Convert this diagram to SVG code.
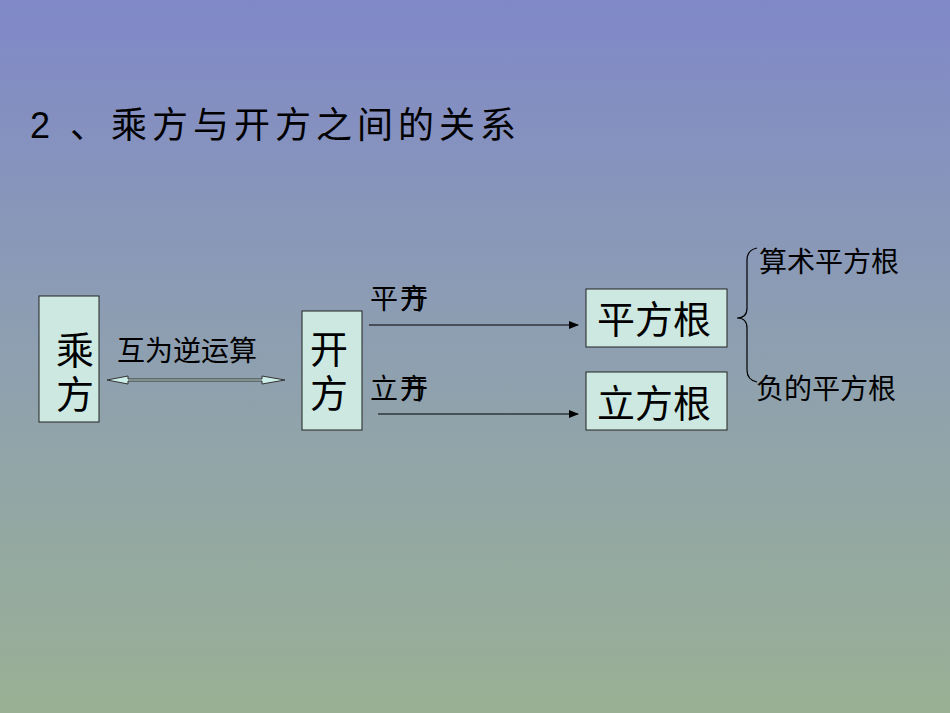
<svg xmlns="http://www.w3.org/2000/svg" width="950" height="713" viewBox="0 0 950 713">
<defs>
<linearGradient id="bg" x1="0" y1="0" x2="0" y2="1">
<stop offset="0" stop-color="#8088c8"/>
<stop offset="0.5" stop-color="#8ea0b0"/>
<stop offset="1" stop-color="#9ab094"/>
</linearGradient>
<marker id="ah" markerWidth="10" markerHeight="8" refX="9" refY="4" orient="auto" markerUnits="userSpaceOnUse">
<path d="M0,0 L10,4 L0,8 Z" fill="#000"/>
</marker>
<style>
text{font-family:"Liberation Serif","Noto Sans CJK SC",serif;fill:#000}
.box{fill:#cce8e0;stroke:#222;stroke-width:1}
.big{font-size:38px}
.mid{font-size:28px}
.ln{stroke:#000;stroke-width:1.2;fill:none}
</style>
</defs>
<rect width="950" height="713" fill="url(#bg)"/>
<text x="30" y="138" style="font-family:'Liberation Sans','Noto Sans CJK SC',sans-serif;font-size:36px;letter-spacing:5px">2 、乘方与开方之间的关系</text>
<g id="chengfang"><rect class="box" x="39" y="296" width="60" height="126"/><text class="big" x="56" y="364">乘</text><text class="big" x="56" y="408">方</text></g>
<g id="kaifang"><rect class="box" x="302" y="311" width="60" height="119"/><text class="big" x="310" y="363">开</text><text class="big" x="310" y="407">方</text></g>
<g id="pingfanggen"><rect class="box" x="586" y="289" width="141" height="58"/><text class="big" x="597" y="333">平方根</text></g>
<g id="lifanggen"><rect class="box" x="586" y="372" width="141" height="58"/><text class="big" x="597" y="417">立方根</text></g>
<g id="labels">
<text class="mid" x="117" y="361">互为逆运算</text>
<text class="mid" x="370" y="309">平</text><text class="mid" x="400" y="309">开</text><text class="mid" x="400" y="309">方</text>
<text class="mid" x="370" y="399">立</text><text class="mid" x="400" y="399">开</text><text class="mid" x="400" y="399">方</text>
<text class="mid" x="759" y="272">算术平方根</text>
<text class="mid" x="756" y="399">负的平方根</text>
</g>
<g id="connectors">
<path d="M107,380 L128,376 L128,379 L262,379 L262,376 L285,380 L262,384 L262,381 L128,381 L128,384 Z" fill="#cdeee8" stroke="#333" stroke-width="1"/>
<line class="ln" x1="369" y1="325" x2="578" y2="325" marker-end="url(#ah)"/>
<line class="ln" x1="378" y1="414" x2="578" y2="414" marker-end="url(#ah)"/>
<path class="ln" d="M757,248 Q747,250 747,260 L747,308 Q747,318 737,318 Q747,318 747,328 L747,370 Q747,380 757,382"/>
</g>
</svg>
